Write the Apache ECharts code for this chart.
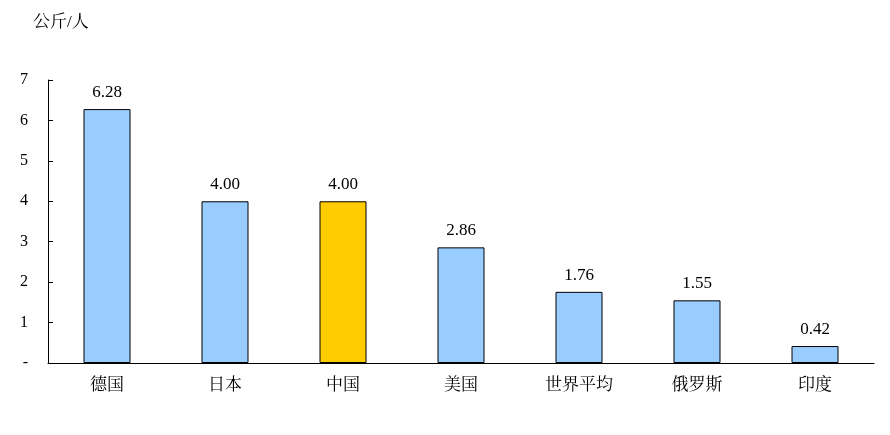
<!DOCTYPE html><html><head><meta charset="utf-8"><script src="https://cdn.jsdelivr.net/npm/echarts@6/dist/echarts.min.js"></script></head><body style="margin:0;background:#fff"><div id="c" style="width:890px;height:435px"></div><script>
const categories=['德国','日本','中国','美国','世界平均','俄罗斯','印度'];
const values=[6.28,4.00,4.00,2.86,1.76,1.55,0.42];
const highlight='中国';
const yTicks=[0,1,2,3,4,5,6,7];
const ch=echarts.init(document.getElementById('c'));
const F='"Liberation Serif","Noto Serif CJK SC","Noto Sans CJK SC",serif';
ch.setOption({animation:false,
grid:{left:48,right:16,top:80,bottom:72},
graphic:[{type:'text',left:33,top:14,style:{text:'公斤/人',font:'17px '+F,fill:'#000'}}],
xAxis:{type:'category',data:categories,axisLine:{lineStyle:{color:'#000'}},axisTick:{inside:true,length:6,lineStyle:{color:'#000'}},axisLabel:{color:'#000',fontSize:17,fontFamily:F,margin:14}},
yAxis:{type:'value',min:0,max:7,interval:1,splitLine:{show:false},axisLine:{show:true,lineStyle:{color:'#000'}},axisTick:{show:true,inside:true,length:5,lineStyle:{color:'#000'}},axisLabel:{color:'#000',fontSize:16,fontFamily:F,margin:20,formatter:v=>v===0?'-':String(v)}},
series:[{type:'bar',barWidth:47,data:values.map((v,i)=>({value:v,itemStyle:{color:categories[i]===highlight?'#FFCC00':'#99CCFF'}})),itemStyle:{borderColor:'#000',borderWidth:1},label:{show:true,position:'top',distance:8,color:'#000',fontSize:17,fontFamily:F,formatter:p=>p.value.toFixed(2)}}]});
</script></body></html>
